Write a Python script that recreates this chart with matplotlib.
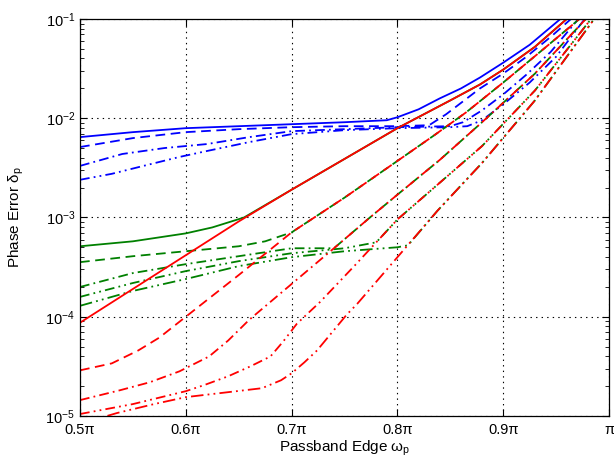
import numpy as np
import matplotlib
matplotlib.use("Agg")
import matplotlib.pyplot as plt

plt.rcParams['font.family'] = ['Liberation Sans', 'DejaVu Sans']
plt.rcParams['mathtext.fontset'] = 'custom'
plt.rcParams['mathtext.rm'] = 'Liberation Sans'
plt.rcParams['mathtext.it'] = 'Liberation Sans:italic'
plt.rcParams['lines.scale_dashes'] = False

# passband edge in units of pi, phase error given as log10 values
b1_x = [0.5, 0.55, 0.6, 0.65, 0.7, 0.75, 0.79, 0.8, 0.82, 0.84, 0.86, 0.878, 0.9, 0.925, 0.954]
b1_y = [-2.19, -2.14, -2.10, -2.08, -2.06, -2.04, -2.02, -1.99, -1.91, -1.80, -1.70, -1.59, -1.44, -1.26, -1.0]
b2_x = [0.5, 0.55, 0.6, 0.65, 0.7, 0.75, 0.8, 0.83, 0.846, 0.862, 0.878, 0.9, 0.922, 0.946, 0.964]
b2_y = [-2.29, -2.20, -2.14, -2.11, -2.09, -2.08, -2.08, -2.07, -1.96, -1.83, -1.70, -1.55, -1.38, -1.17, -1.0]
b3_x = [0.5, 0.54, 0.58, 0.62, 0.66, 0.7, 0.75, 0.8, 0.85, 0.862, 0.88, 0.9, 0.922, 0.945, 0.971]
b3_y = [-2.48, -2.36, -2.30, -2.26, -2.19, -2.13, -2.11, -2.09, -2.08, -2.04, -1.92, -1.76, -1.56, -1.33, -1.0]
b4_x = [0.5, 0.53, 0.56, 0.594, 0.62, 0.66, 0.7, 0.75, 0.8, 0.85, 0.866, 0.88, 0.9, 0.925, 0.95, 0.977]
b4_y = [-2.62, -2.56, -2.48, -2.39, -2.33, -2.24, -2.16, -2.12, -2.10, -2.09, -2.08, -2.02, -1.86, -1.64, -1.38, -1.0]

g1_x = [0.5, 0.55, 0.6, 0.625, 0.64, 0.655, 0.7, 0.75, 0.8, 0.85, 0.878, 0.9, 0.93, 0.96]
g1_y = [-3.29, -3.24, -3.16, -3.10, -3.05, -3.0, -2.72, -2.41, -2.10, -1.82, -1.66, -1.51, -1.28, -1.0]
g2_x = [0.5, 0.55, 0.6, 0.65, 0.675, 0.7, 0.75, 0.8, 0.835, 0.865, 0.9, 0.935, 0.972]
g2_y = [-3.45, -3.39, -3.34, -3.29, -3.24, -3.15, -2.80, -2.43, -2.17, -1.94, -1.64, -1.33, -1.0]
g3_x = [0.5, 0.55, 0.6, 0.65, 0.7, 0.74, 0.774, 0.8, 0.84, 0.88, 0.93, 0.978]
g3_y = [-3.70, -3.56, -3.47, -3.39, -3.31, -3.31, -3.0, -2.77, -2.42, -2.04, -1.55, -1.0]
g4_x = [0.5, 0.55, 0.6, 0.65, 0.7, 0.75, 0.78, 0.8, 0.84, 0.88, 0.93, 0.983]
g4_y = [-3.80, -3.66, -3.54, -3.44, -3.36, -3.31, -3.25, -3.02, -2.65, -2.28, -1.72, -1.0]
g5_x = [0.5, 0.55, 0.6, 0.65, 0.7, 0.75, 0.8, 0.81, 0.838, 0.88, 0.93, 0.986]
g5_y = [-3.89, -3.74, -3.62, -3.49, -3.40, -3.34, -3.30, -3.28, -2.93, -2.45, -1.82, -1.0]

r1_x = [0.5, 0.55, 0.6, 0.65, 0.7, 0.75, 0.8, 0.85, 0.878, 0.9, 0.93, 0.96]
r1_y = [-4.06, -3.72, -3.38, -3.04, -2.72, -2.41, -2.10, -1.82, -1.66, -1.51, -1.28, -1.0]
r2_x = [0.5, 0.53, 0.555, 0.575, 0.6, 0.65, 0.7, 0.75, 0.8, 0.835, 0.865, 0.9, 0.935, 0.972]
r2_y = [-4.54, -4.47, -4.34, -4.21, -4.0, -3.58, -3.15, -2.80, -2.43, -2.17, -1.94, -1.64, -1.33, -1.0]
r3_x = [0.5, 0.538, 0.566, 0.594, 0.622, 0.64, 0.66, 0.68, 0.7, 0.74, 0.774, 0.8, 0.84, 0.88, 0.93, 0.978]
r3_y = [-4.84, -4.74, -4.66, -4.55, -4.40, -4.24, -4.03, -3.85, -3.67, -3.31, -3.0, -2.77, -2.42, -2.04, -1.55, -1.0]
r4_x = [0.5, 0.55, 0.6, 0.617, 0.64, 0.661, 0.68, 0.692, 0.705, 0.727, 0.76, 0.8, 0.84, 0.88, 0.93, 0.983]
r4_y = [-4.98, -4.88, -4.75, -4.69, -4.60, -4.50, -4.40, -4.25, -4.07, -3.85, -3.48, -3.02, -2.65, -2.28, -1.72, -1.0]
r5_x = [0.5, 0.535, 0.57, 0.6, 0.64, 0.672, 0.69, 0.7, 0.712, 0.724, 0.738, 0.752, 0.762, 0.8, 0.838, 0.88, 0.93, 0.986]
r5_y = [-5.08, -4.97, -4.88, -4.81, -4.76, -4.72, -4.64, -4.57, -4.46, -4.34, -4.16, -3.98, -3.87, -3.40, -2.93, -2.45, -1.82, -1.0]

xtick_pos = [0.5, 0.6, 0.7, 0.8, 0.9, 1.0]
xtick_labels = ['0.5π', '0.6π', '0.7π', '0.8π', '0.9π', 'π']

styles = ['-', (0, (7, 4)), (0, (7, 3, 1.3, 3)), (0, (7, 3, 1.3, 3, 1.3, 3)), (0, (9, 3, 1.3, 3, 1.3, 3))]
blue = [(b1_x, b1_y), (b2_x, b2_y), (b3_x, b3_y), (b4_x, b4_y)]
green = [(g1_x, g1_y), (g2_x, g2_y), (g3_x, g3_y), (g4_x, g4_y), (g5_x, g5_y)]
red = [(r1_x, r1_y), (r2_x, r2_y), (r3_x, r3_y), (r4_x, r4_y), (r5_x, r5_y)]

fig = plt.figure(figsize=(6.14, 4.59), dpi=100)
ax = fig.add_axes([0.1303, 0.0937, 0.8616, 0.8649])

for group, col in [(blue, (0, 0, 1)), (green, (0, 0.5, 0)), (red, (1, 0, 0))]:
    for (x, y), ls in zip(group, styles):
        ax.semilogy(x, 10.0 ** np.array(y), color=col, linestyle=ls, lw=1.3)

ax.set_xlim(0.5, 1.0)
ax.set_ylim(1e-5, 1e-1)
ax.set_xticks(xtick_pos)
ax.set_xticklabels(xtick_labels)
ax.grid(True, which='major', linestyle=(0, (1, 3)), color='k', lw=0.8)
ax.tick_params(which='both', direction='in', top=True, right=True, labelsize=10.5, color='k')
ax.tick_params(which='major', length=5)
ax.tick_params(which='minor', length=3)
ax.tick_params(axis='x', pad=5)
for s in ax.spines.values():
    s.set_linewidth(0.9)

ax.set_xlabel('Passband Edge ω$_\\mathregular{p}$', fontsize=11, labelpad=1)
ax.set_ylabel('Phase Error δ$_\\mathregular{p}$', fontsize=11, labelpad=14)

fig.savefig('out.png', dpi=100)
